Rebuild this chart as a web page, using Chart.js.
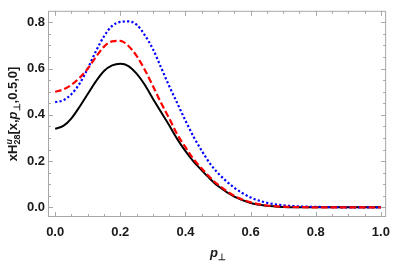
<!DOCTYPE html>
<html>
<head>
<meta charset="utf-8">
<script src="https://cdn.jsdelivr.net/npm/chart.js@4.4.1/dist/chart.umd.min.js"></script>
<style>
  html, body { margin: 0; padding: 0; background: #fff; }
  #wrap { width: 398px; height: 264px; position: relative; }
</style>
</head>
<body>
<div id="wrap"><canvas id="chart"></canvas></div>
<script>
// p_perp grid and the three curves
const pT = [0, 0.025, 0.05, 0.075, 0.1, 0.125, 0.15, 0.175, 0.2, 0.225, 0.25, 0.275, 0.3, 0.325, 0.35,
            0.375, 0.4, 0.425, 0.45, 0.475, 0.5, 0.55, 0.6, 0.65, 0.7, 0.75, 0.8, 0.85, 0.9, 0.95, 1.0];
const solidBlack = [0.340, 0.352, 0.385, 0.435, 0.490, 0.545, 0.590, 0.614, 0.621, 0.611, 0.578, 0.530, 0.470, 0.412, 0.355,
                    0.295, 0.243, 0.198, 0.160, 0.124, 0.092, 0.046, 0.019, 0.007, 0.002, 0.0005, 0, 0, 0, 0, 0];
const dashedRed = [0.500, 0.510, 0.530, 0.560, 0.600, 0.650, 0.695, 0.718, 0.720, 0.698, 0.655, 0.595, 0.525, 0.452, 0.385,
                   0.315, 0.260, 0.208, 0.168, 0.130, 0.098, 0.050, 0.022, 0.008, 0.003, 0.001, 0, 0, 0, 0, 0];
const dottedBlue = [0.455, 0.463, 0.490, 0.535, 0.600, 0.675, 0.740, 0.785, 0.802, 0.804, 0.790, 0.745, 0.685, 0.605, 0.525,
                    0.450, 0.375, 0.305, 0.245, 0.190, 0.148, 0.085, 0.043, 0.020, 0.009, 0.004, 0.002, 0.001, 0, 0, 0];
const xTicks = [0, 0.2, 0.4, 0.6, 0.8, 1.0];
const yTicks = [0, 0.2, 0.4, 0.6, 0.8];

const toPoints = ys => pT.map((x, i) => ({ x, y: ys[i] }));
const FONT = '"Liberation Sans", Arial, sans-serif';
const FRAME = '#a8a8a8';

// Frame with inward ticks on all four sides
const frameTicks = {
    id: 'frameTicks',
    beforeDatasetsDraw(chart) {
        const { ctx, chartArea: a, scales: { x, y } } = chart;
        ctx.save();
        ctx.strokeStyle = FRAME;
        ctx.lineWidth = 1;
        ctx.strokeRect(a.left + 0.5, a.top + 0.5, a.right - a.left - 1, a.bottom - a.top - 1);
        ctx.beginPath();
        for (let k = 0; k <= 20; k++) {
            const len = k % 4 === 0 ? 5 : 3;
            const px = Math.round(x.getPixelForValue(k * 0.05)) + 0.5;
            ctx.moveTo(px, a.bottom); ctx.lineTo(px, a.bottom - len);
            ctx.moveTo(px, a.top); ctx.lineTo(px, a.top + len);
        }
        for (let k = 0; k <= 16; k++) {
            const len = k % 4 === 0 ? 5 : 3;
            const py = Math.round(y.getPixelForValue(k * 0.05)) + 0.5;
            ctx.moveTo(a.left, py); ctx.lineTo(a.left + len, py);
            ctx.moveTo(a.right, py); ctx.lineTo(a.right - len, py);
        }
        ctx.stroke();
        ctx.restore();
    }
};

// text runs with sub/superscripts, centred on (cx, base)
function drawRuns(ctx, runs, cx, base) {
    let w = 0;
    const widths = runs.map(r => {
        ctx.font = r.font;
        let rw = ctx.measureText(r.t).width;
        if (r.sub) { ctx.font = r.subFont; rw = Math.max(rw, ctx.measureText(r.sub).width); }
        w += rw;
        return rw;
    });
    let x = cx - w / 2;
    ctx.textBaseline = 'alphabetic';
    ctx.textAlign = 'left';
    runs.forEach((r, i) => {
        ctx.font = r.font;
        ctx.fillText(r.t, x, base + (r.dy || 0));
        if (r.sub) { ctx.font = r.subFont; ctx.fillText(r.sub, x, base + r.subDy); }
        x += widths[i];
    });
}

const axisTitles = {
    id: 'axisTitles',
    afterDraw(chart) {
        const { ctx, chartArea: a } = chart;
        const B = 'bold 13px ' + FONT, BI = 'italic bold 13px ' + FONT;
        const S = 'bold 9px ' + FONT, SI = 'italic bold 9px ' + FONT;
        ctx.save();
        ctx.fillStyle = '#1a1a1a';
        // x title: p_perp
        drawRuns(ctx, [
            { t: 'p', font: BI },
            { t: '\u22a5', font: S, dy: 3 }
        ], (a.left + a.right) / 2 + 1, 257);
        // y title: xH^u_28[x,p_perp,0.5,0]
        ctx.translate(17, (a.top + a.bottom) / 2);
        ctx.rotate(-Math.PI / 2);
        drawRuns(ctx, [
            { t: 'xH', font: B },
            { t: 'u', font: SI, dy: -5, sub: '28', subFont: S, subDy: 3 },
            { t: '[x,', font: B },
            { t: 'p', font: BI },
            { t: '\u22a5', font: S, dy: 3 },
            { t: ',0.5,0]', font: B }
        ], 0, 0);
        ctx.restore();
    }
};

new Chart(document.getElementById('chart'), {
    type: 'line',
    data: {
        datasets: [
            { data: toPoints(solidBlack), borderColor: '#000', borderWidth: 2, order: 3 },
            { data: toPoints(dottedBlue), borderColor: '#0000ff', borderWidth: 2.2, borderDash: [2.2, 2.2], order: 2 },
            { data: toPoints(dashedRed), borderColor: '#ff0000', borderWidth: 2.2, borderDash: [6.5, 3], order: 1 }
        ]
    },
    options: {
        responsive: true,
        maintainAspectRatio: false,
        animation: false,
        layout: { padding: { top: 3, right: 4, left: 0, bottom: 0 } },
        elements: {
            point: { radius: 0 },
            line: { cubicInterpolationMode: 'monotone', fill: false }
        },
        plugins: { legend: { display: false }, tooltip: { enabled: false } },
        scales: {
            x: {
                type: 'linear',
                min: -0.022, max: 1.016,
                afterBuildTicks: s => { s.ticks = xTicks.map(value => ({ value })); },
                afterFit: s => { s.height = 47; },
                grid: { display: false, drawTicks: false },
                border: { display: false },
                ticks: {
                    padding: 8,
                    color: '#1a1a1a',
                    font: { family: FONT, size: 13, weight: 'bold' },
                    callback: v => v.toFixed(1),
                    maxRotation: 0
                }
            },
            y: {
                min: -0.0417, max: 0.85,
                afterBuildTicks: s => { s.ticks = yTicks.map(value => ({ value })); },
                afterFit: s => { s.width = 48; },
                grid: { display: false, drawTicks: false },
                border: { display: false },
                ticks: {
                    padding: 3,
                    color: '#1a1a1a',
                    font: { family: FONT, size: 13, weight: 'bold' },
                    callback: v => v.toFixed(1)
                }
            }
        }
    },
    plugins: [frameTicks, axisTitles]
});
</script>
</body>
</html>
